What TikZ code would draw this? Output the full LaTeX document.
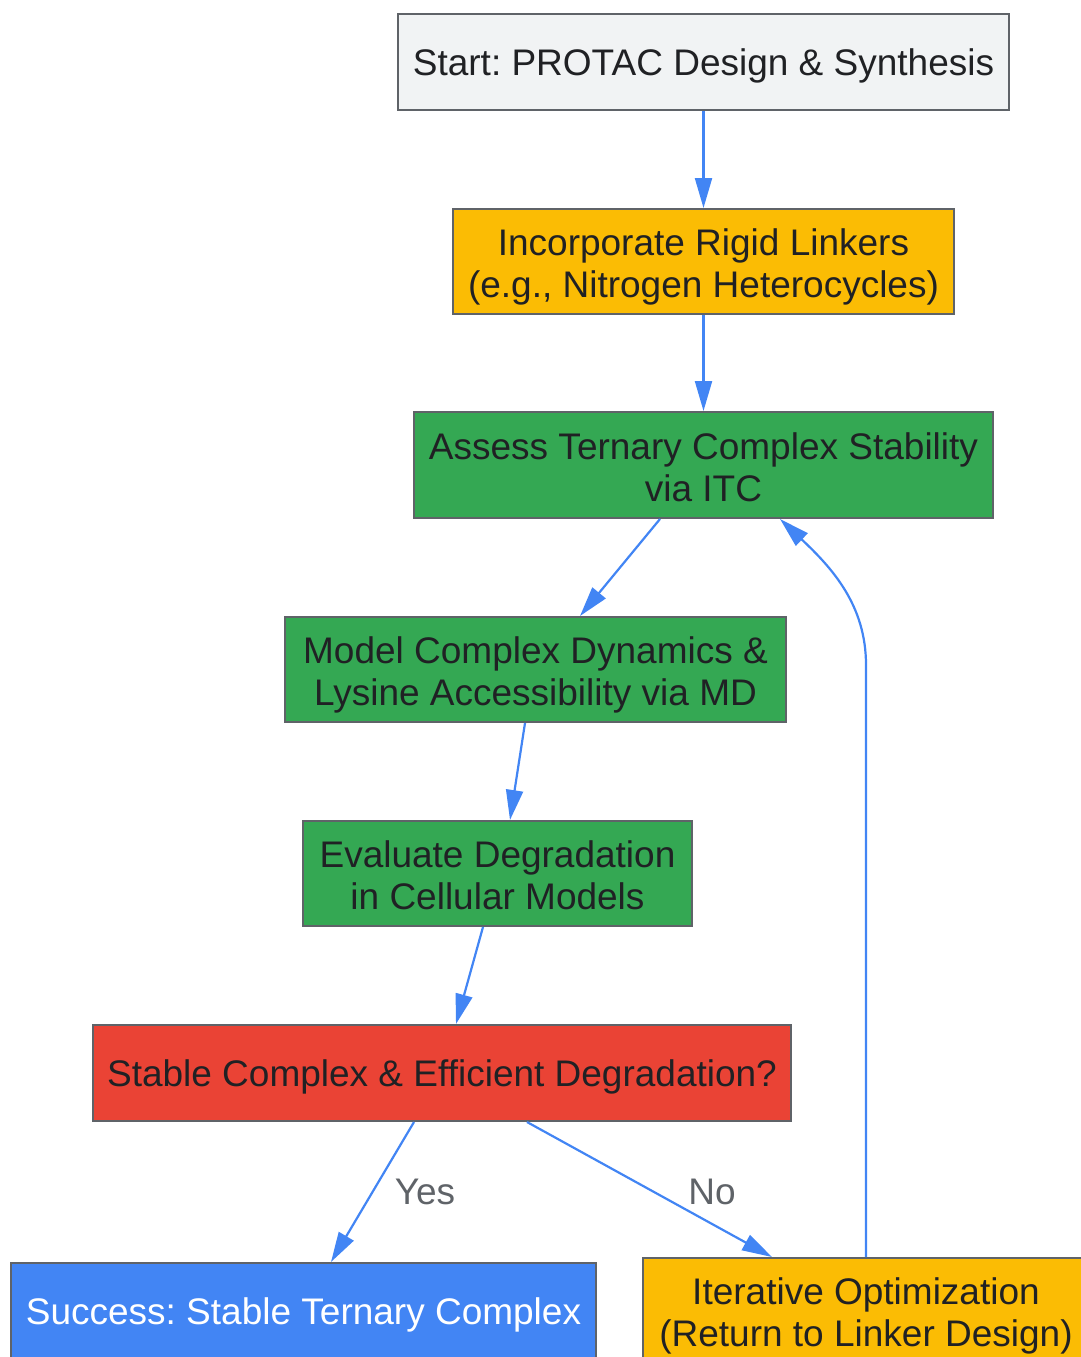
\documentclass[tikz,border=0pt]{standalone}
\usepackage{fontspec}
\setmainfont{Liberation Sans}
\frenchspacing
\usepackage{xcolor}
\usetikzlibrary{arrows.meta}
\definecolor{ink}{HTML}{202124}
\definecolor{edgegray}{HTML}{5F6368}
\definecolor{startgray}{HTML}{F1F3F4}
\definecolor{gyellow}{HTML}{FBBC04}
\definecolor{ggreen}{HTML}{34A853}
\definecolor{gred}{HTML}{EA4335}
\definecolor{gblue}{HTML}{4285F4}
\newcommand{\boxstrut}{\rule[-8pt]{0pt}{42pt}}
\newcommand{\tallstrut}{\rule{0pt}{38pt}}

\begin{document}
\begin{tikzpicture}[x=1pt,y=-1pt,
    box/.style={draw=edgegray,line width=2pt,inner sep=0pt,align=center,
        text=ink,font=\fontsize{37}{42}\selectfont,
        execute at begin node=\boxstrut,execute at end node=\boxstrut},
    flow/.style={draw=gblue,line width=2.2pt,-{Triangle[length=30pt,width=17pt]}},
    lbl/.style={text=edgegray,font=\fontsize{37}{42}\selectfont}]
\useasboundingbox (0,0) rectangle (1081,1357);
% steps
\node[box,fill=startgray,minimum width=611pt,minimum height=96pt] (start) at (703.5,62)
    {Start: PROTAC Design \& Synthesis};
\node[box,fill=gyellow,minimum width=501pt,minimum height=105pt] (rigid) at (703.5,261.5)
    {\tallstrut Incorporate Rigid Linkers\\(e.g., Nitrogen Heterocycles)};
\node[box,fill=ggreen,minimum width=579pt,minimum height=106pt] (itc) at (703.5,465)
    {\tallstrut Assess Ternary Complex Stability\\via ITC};
\node[box,fill=ggreen,minimum width=501pt,minimum height=105pt] (md) at (535.5,669.5)
    {\tallstrut Model Complex Dynamics \&\\Lysine Accessibility via MD};
\node[box,fill=ggreen,minimum width=389pt,minimum height=105pt] (cells) at (497.5,873.5)
    {\tallstrut Evaluate Degradation\\in Cellular Models};
\node[box,fill=gred,minimum width=698pt,minimum height=96pt] (check) at (442,1073)
    {Stable Complex \& Efficient Degradation?};
\node[box,fill=gblue,text=white,minimum width=585pt,minimum height=96pt] (success) at (303.5,1311)
    {Success: Stable Ternary Complex};
\node[box,fill=gyellow,minimum width=446pt,minimum height=105pt] (iterate) at (866,1310.5)
    {\tallstrut Iterative Optimization\\(Return to Linker Design)};
\node[lbl] (yes) at (425,1192) {Yes};
\node[lbl] (no) at (712,1192) {No};
\coordinate (bend) at (866,665);

\draw[flow] (start) -- (rigid);
\draw[flow] (rigid) -- (itc);
\draw[flow] ([xshift=-43.5pt]itc.south) -- ([xshift=44.5pt]md.north);
\draw[flow] ([xshift=-10.5pt]md.south) -- ([xshift=12.5pt]cells.north);
\draw[flow] ([xshift=-14.5pt]cells.south) -- ([xshift=14pt]check.north);
\draw[flow] ([xshift=-28pt]check.south) -- ([xshift=27.5pt]success.north);
\draw[flow] ([xshift=85pt]check.south) -- ([xshift=-94pt]iterate.north);
% loop back
\draw[flow] (iterate.north) -- (bend)
    .. controls (866,605) and (832,568) .. ([xshift=76.5pt]itc.south);
\end{tikzpicture}
\end{document}
